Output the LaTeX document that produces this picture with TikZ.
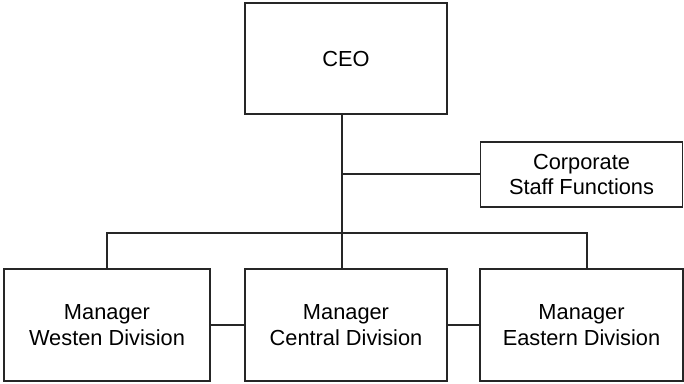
\documentclass[tikz,border=0pt]{standalone}
\usepackage{fontspec}
\setmainfont{Liberation Sans}
\begin{document}
\begin{tikzpicture}[x=1pt,y=-1pt,
  orgbox/.style={draw=black!85,line width=1.3pt,fill=white,inner sep=0pt,align=center,
    font=\fontsize{21.8}{25.5}\selectfont,text=black},
  link/.style={draw=black!85,line width=1.1pt}]
\useasboundingbox (0,0) rectangle (684,383);
\node[orgbox,minimum width=202pt,minimum height=111pt] (ceo) at (346,58.5) {CEO};
\node[orgbox,minimum width=202pt,minimum height=65pt] (corp) at (581.5,174.5) {Corporate\\Staff Functions};
\node[orgbox,minimum width=206pt,minimum height=112pt] (west) at (107,325) {Manager\\Westen Division};
\node[orgbox,minimum width=202pt,minimum height=112pt] (central) at (346,325) {Manager\\Central Division};
\node[orgbox,minimum width=203pt,minimum height=112pt] (east) at (581.5,325) {Manager\\Eastern Division};
\coordinate (spine) at (342,174);
\coordinate (bar) at (342,233);
\draw[link] (ceo.south -| spine) -- (central.north -| spine);
\draw[link] (spine) -- (corp.west |- spine);
\draw[link] (west.north -| 107,0) -- (107,233) -- (587,233) -- (east.north -| 587,0);
\draw[link] (west.east) -- (central.west);
\draw[link] (central.east) -- (east.west);
\end{tikzpicture}
\end{document}
